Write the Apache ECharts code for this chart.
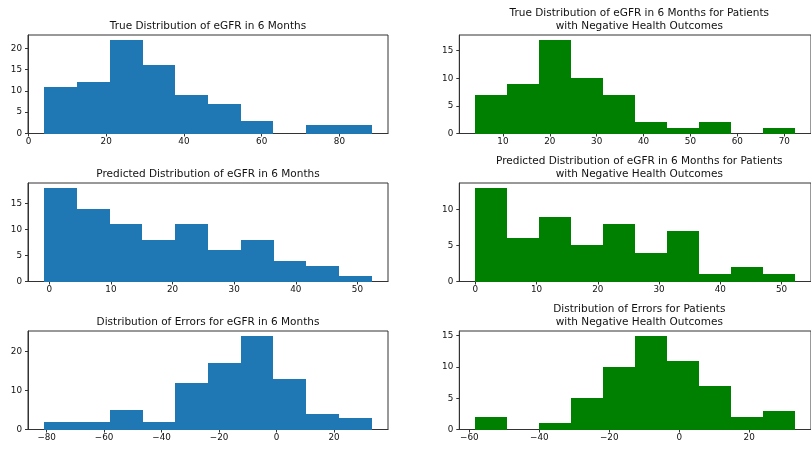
<!DOCTYPE html>
<html><head><meta charset="utf-8">
<script src="https://cdn.jsdelivr.net/npm/echarts@6/dist/echarts.min.js"></script>
<style>html,body{margin:0;padding:0;background:#fff}#c{width:811px;height:449px}</style>
</head><body><div id="c"></div>
<script>
// ---- Data (bin edges + counts) ----
const trueAllEdges = [4.1, 12.5, 20.9, 29.4, 37.8, 46.2, 54.6, 63.0, 71.5, 79.9, 88.3];
const trueAllCounts = [11, 12, 22, 16, 9, 7, 3, 0, 2, 2];
const trueNegEdges = [4.1, 10.9, 17.7, 24.6, 31.4, 38.2, 45.0, 51.8, 58.7, 65.5, 72.3];
const trueNegCounts = [7, 9, 17, 10, 7, 2, 1, 2, 0, 1];
const predAllEdges = [-0.8, 4.5, 9.8, 15.1, 20.4, 25.7, 31.1, 36.4, 41.7, 47.0, 52.3];
const predAllCounts = [18, 14, 11, 8, 11, 6, 8, 4, 3, 1];
const predNegEdges = [0.0, 5.2, 10.4, 15.7, 20.9, 26.1, 31.3, 36.5, 41.8, 47.0, 52.2];
const predNegCounts = [13, 6, 9, 5, 8, 4, 7, 1, 2, 1];
const errAllEdges = [-80.8, -69.4, -58.0, -46.6, -35.2, -23.9, -12.5, -1.1, 10.3, 21.7, 33.1];
const errAllCounts = [2, 2, 5, 2, 12, 17, 24, 13, 4, 3];
const errNegEdges = [-58.3, -49.2, -40.0, -30.9, -21.8, -12.6, -3.5, 5.6, 14.8, 23.9, 33.1];
const errNegCounts = [2, 0, 1, 5, 10, 15, 11, 7, 2, 3];

// tick labels
const xTicks1 = [0, 20, 40, 60, 80];
const yTicks1 = [0, 5, 10, 15, 20];
const xTicks2 = [10, 20, 30, 40, 50, 60, 70];
const yTicks2 = [0, 5, 10, 15];
const xTicks3 = [0, 10, 20, 30, 40, 50];
const yTicks3 = [0, 5, 10, 15];
const xTicks4 = [0, 10, 20, 30, 40, 50];
const yTicks4 = [0, 5, 10];
const xTicks5 = [-80, -60, -40, -20, 0, 20];
const yTicks5 = [0, 10, 20];
const xTicks6 = [-60, -40, -20, 0, 20];
const yTicks6 = [0, 5, 10, 15];

const titles = [
  'True Distribution of eGFR in 6 Months',
  'True Distribution of eGFR in 6 Months for Patients\nwith Negative Health Outcomes',
  'Predicted Distribution of eGFR in 6 Months',
  'Predicted Distribution of eGFR in 6 Months for Patients\nwith Negative Health Outcomes',
  'Distribution of Errors for eGFR in 6 Months',
  'Distribution of Errors for Patients\nwith Negative Health Outcomes'
];

const BLUE = '#1f77b4', GREEN = '#008000';
const panels = [
  {edges: trueAllEdges, counts: trueAllCounts, xt: xTicks1, yt: yTicks1, color: BLUE},
  {edges: trueNegEdges, counts: trueNegCounts, xt: xTicks2, yt: yTicks2, color: GREEN},
  {edges: predAllEdges, counts: predAllCounts, xt: xTicks3, yt: yTicks3, color: BLUE},
  {edges: predNegEdges, counts: predNegCounts, xt: xTicks4, yt: yTicks4, color: GREEN},
  {edges: errAllEdges, counts: errAllCounts, xt: xTicks5, yt: yTicks5, color: BLUE},
  {edges: errNegEdges, counts: errNegCounts, xt: xTicks6, yt: yTicks6, color: GREEN}
];

// ---- Layout ----
const colLeft = [28, 459.3];
const rowTop = [35, 183, 331];
const W = 360, H = 98.5;
const FONT = 'DejaVu Sans';
const TXT = '#111';
const LINE = '#333';
const fmt = v => (v < 0 ? '\u2212' + Math.abs(v) : String(v));

const option = {animation: false, title: [], grid: [], xAxis: [], yAxis: [], series: []};

panels.forEach((p, i) => {
  const col = i % 2, row = Math.floor(i / 2);
  const left = colLeft[col], top = rowTop[row];
  const e0 = p.edges[0], eN = p.edges[p.edges.length - 1];
  const span = eN - e0;
  const ymax = Math.max(...p.counts) * 1.05;
  const twoLine = titles[i].indexOf('\n') >= 0;
  option.title.push({
    text: titles[i],
    left: left + W / 2,
    top: twoLine ? top - 28 : top - 15.3,
    textAlign: 'center',
    padding: 0,
    textStyle: {fontFamily: FONT, fontSize: 10.5, fontWeight: 'normal', color: TXT, lineHeight: 12.6}
  });
  option.grid.push({left: left, top: top, width: W, height: H, show: true, borderColor: LINE, borderWidth: 1, backgroundColor: 'transparent'});
  option.xAxis.push({
    type: 'value', gridIndex: i, min: e0 - 0.05 * span, max: eN + 0.05 * span,
    splitLine: {show: false},
    axisLine: {show: true, onZero: false, lineStyle: {color: LINE, width: 1}},
    axisTick: {show: true, length: 3, customValues: p.xt, lineStyle: {color: LINE}},
    axisLabel: {customValues: p.xt, margin: 4, fontFamily: FONT, fontSize: 8.8, color: TXT, formatter: fmt}
  });
  option.yAxis.push({
    type: 'value', gridIndex: i, min: 0, max: ymax,
    splitLine: {show: false},
    axisLine: {show: true, onZero: false, lineStyle: {color: LINE, width: 1}},
    axisTick: {show: true, length: 3, customValues: p.yt, lineStyle: {color: LINE}},
    axisLabel: {customValues: p.yt, margin: 6, fontFamily: FONT, fontSize: 8.8, color: TXT, formatter: fmt}
  });
  const data = p.counts.map((c, k) => [p.edges[k], p.edges[k + 1], c]);
  option.series.push({
    type: 'custom', xAxisIndex: i, yAxisIndex: i,
    itemStyle: {color: p.color},
    encode: {x: [0, 1], y: 2},
    data: data,
    renderItem: function (params, api) {
      const a = api.coord([api.value(0), api.value(2)]);
      const b = api.coord([api.value(1), 0]);
      const x0 = Math.round(a[0]), x1 = Math.round(b[0]);
      const y0 = Math.round(a[1]), y1 = Math.round(b[1]);
      return {type: 'rect', shape: {x: x0, y: y0, width: x1 - x0, height: y1 - y0},
        style: {fill: api.visual('color')}};
    }
  });
});

const chart = echarts.init(document.getElementById('c'), null, {renderer: 'canvas'});
chart.setOption(option);
</script>
</body></html>
